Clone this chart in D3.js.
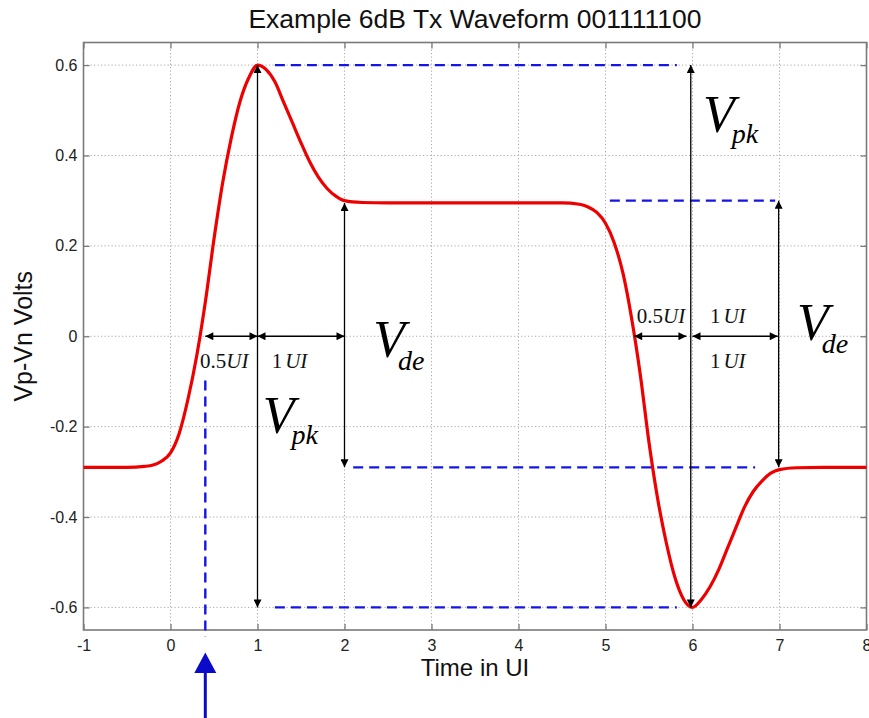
<!DOCTYPE html>
<html>
<head>
<meta charset="utf-8">
<script src="https://cdn.jsdelivr.net/npm/d3@7"></script>
<style>
  body { margin: 0; background: #fff; }
  svg { display: block; }
</style>
</head>
<body>
<div id="chart"></div>
<script>
// waveform (time in UI, volts)
let timeUI = [-1, -0.5, -0.3, -0.2, -0.1, 0, 0.1, 0.2, 0.3, 0.4, 0.5, 0.6, 0.7, 0.8, 0.9, 1.0,
  1.1, 1.2, 1.3, 1.4, 1.5, 1.6, 1.7, 1.8, 1.9, 2.0, 2.2, 2.5, 3, 3.5, 4, 4.5, 4.7, 4.8, 4.9, 5.0,
  5.1, 5.2, 5.3, 5.4, 5.5, 5.6, 5.7, 5.8, 5.9, 6.0, 6.1, 6.2, 6.3, 6.4, 6.5, 6.6, 6.7, 6.8, 6.9,
  7.0, 7.2, 7.5, 8];
let volts = [-0.29, -0.29, -0.288, -0.285, -0.276, -0.258, -0.215, -0.14, -0.045, 0.075, 0.215, 0.34, 0.44, 0.52, 0.572, 0.60,
  0.59, 0.563, 0.518, 0.473, 0.428, 0.386, 0.352, 0.327, 0.31, 0.30, 0.296, 0.295, 0.295, 0.295, 0.295, 0.295, 0.292, 0.286, 0.274, 0.25,
  0.207, 0.14, 0.04, -0.085, -0.235, -0.36, -0.458, -0.535, -0.583, -0.60, -0.583, -0.555, -0.517, -0.47, -0.423, -0.377, -0.343, -0.32, -0.303,
  -0.295, -0.291, -0.29, -0.29];

let xTicks = [-1, 0, 1, 2, 3, 4, 5, 6, 7, 8];
let yTicks = [-0.6, -0.4, -0.2, 0, 0.2, 0.4, 0.6];

// annotations, in data units
let dashLines = [[1.2, 5.82, 0.6], [5.05, 6.95, 0.30], [2.1, 6.72, -0.29], [1.2, 5.82, -0.6]]; // x1, x2, y
let vArrows = [[1, 0.6, -0.6], [2, 0.295, -0.29], [5.98, 0.6, -0.6], [6.99, 0.30, -0.29]];   // x, y1, y2
let hArrows = [[0.4, 1], [1, 2], [5.33, 5.93], [6.0, 6.98]];                                // x1, x2 at y = 0
let uiLabels = [[0.34, -0.07, "0.5", "UI"], [1.163, -0.07, "1", "UI"], [5.36, 0.029, "0.5", "UI"],
  [6.2, 0.029, "1", "UI"], [6.2, -0.07, "1", "UI"]];
let vLabels = [[1.061, -0.215, "pk"], [2.33, -0.046, "de"], [6.12, 0.452, "pk"], [7.2, -0.008, "de"]];
let markerX = 0.4;

let W = 869, H = 718;
let x = d3.scaleLinear().domain([-1, 8]).range([83.5, 866.5]);
let y = d3.scaleLinear().domain([-0.65, 0.65]).range([630, 42.5]);

let svg = d3.select("#chart").append("svg").attr("width", W).attr("height", H);

let defs = svg.append("defs");
defs.append("marker").attr("id", "ah")
  .attr("viewBox", "0 0 10 10").attr("refX", 10).attr("refY", 5)
  .attr("markerWidth", 10).attr("markerHeight", 8).attr("markerUnits", "userSpaceOnUse")
  .attr("orient", "auto-start-reverse")
  .append("path").attr("d", "M0,0 L10,5 L0,10 Z").attr("fill", "#000");

// grid
let grid = svg.append("g").attr("stroke", "#a8a8a8").attr("stroke-width", 1).attr("stroke-dasharray", "1.2,2.3");
grid.selectAll(".gx").data(xTicks.slice(1, -1)).enter().append("line")
  .attr("x1", d => x(d)).attr("x2", d => x(d)).attr("y1", y(0.65)).attr("y2", y(-0.65));
grid.selectAll(".gy").data(yTicks).enter().append("line")
  .attr("x1", x(-1)).attr("x2", x(8)).attr("y1", d => y(d)).attr("y2", d => y(d));

// axes (ticks inward on all sides)
let fmt = d => String(d);
let axB = svg.append("g").attr("transform", `translate(0,${y(-0.65)})`)
  .call(d3.axisBottom(x).tickValues(xTicks).tickFormat(fmt).tickSizeInner(-6).tickSizeOuter(0).tickPadding(10));
let axL = svg.append("g").attr("transform", `translate(${x(-1)},0)`)
  .call(d3.axisLeft(y).tickValues(yTicks).tickFormat(fmt).tickSizeInner(-6).tickSizeOuter(0).tickPadding(6));
let axT = svg.append("g").attr("transform", `translate(0,${y(0.65)})`)
  .call(d3.axisTop(x).tickValues(xTicks).tickFormat("").tickSizeInner(-6).tickSizeOuter(0));
let axR = svg.append("g").attr("transform", `translate(${x(8)},0)`)
  .call(d3.axisRight(y).tickValues(yTicks).tickFormat("").tickSizeInner(-6).tickSizeOuter(0));
[axB, axL, axT, axR].forEach(a => {
  a.select(".domain").remove();
  a.selectAll(".tick line").attr("stroke", "#7a7a7a").attr("stroke-width", 1.3);
  a.selectAll("text").attr("fill", "#222").style("font-family", "Liberation Sans, Arial, sans-serif").style("font-size", "16px");
});

svg.append("rect").attr("x", x(-1)).attr("y", y(0.65))
  .attr("width", x(8) - x(-1)).attr("height", y(-0.65) - y(0.65))
  .attr("fill", "none").attr("stroke", "#7a7a7a").attr("stroke-width", 1.6);

// titles
let sans = "Liberation Sans, Arial, sans-serif";
svg.append("text").attr("x", (x(-1) + x(8)) / 2).attr("y", 28).attr("text-anchor", "middle")
  .style("font-family", sans).style("font-size", "26.5px").attr("fill", "#111")
  .text("Example 6dB Tx Waveform 001111100");
svg.append("text").attr("x", (x(-1) + x(8)) / 2).attr("y", 676).attr("text-anchor", "middle")
  .style("font-family", sans).style("font-size", "24px").attr("fill", "#111")
  .text("Time in UI");
svg.append("text").attr("transform", `translate(32,${y(0)}) rotate(-90)`).attr("text-anchor", "middle")
  .style("font-family", sans).style("font-size", "25px").attr("fill", "#111")
  .text("Vp-Vn Volts");

// waveform
let line = d3.line().x((d, i) => x(timeUI[i])).y(d => y(d)).curve(d3.curveMonotoneX);
svg.append("path").datum(volts).attr("d", line)
  .attr("fill", "none").attr("stroke", "#ee0000").attr("stroke-width", 3.2).attr("stroke-linejoin", "round");

// blue dashed reference lines
let blue = "#1515e6";
svg.selectAll(".dash").data(dashLines).enter().append("line")
  .attr("x1", d => x(d[0])).attr("x2", d => x(d[1])).attr("y1", d => y(d[2])).attr("y2", d => y(d[2]))
  .attr("stroke", blue).attr("stroke-width", 2.2).attr("stroke-dasharray", "10,6");
svg.append("line").attr("x1", x(markerX)).attr("x2", x(markerX)).attr("y1", y(-0.098)).attr("y2", y(-0.665))
  .attr("stroke", blue).attr("stroke-width", 2.4).attr("stroke-dasharray", "10,6");

// blue arrow below axis
let tipY = y(-0.70), baseY = y(-0.745);
svg.append("line").attr("x1", x(markerX)).attr("x2", x(markerX)).attr("y1", baseY).attr("y2", y(-0.85))
  .attr("stroke", "#0a0ac8").attr("stroke-width", 3);
svg.append("path")
  .attr("d", `M${x(markerX)},${tipY} L${x(markerX) + 11},${baseY} L${x(markerX) - 11},${baseY} Z`)
  .attr("fill", "#0a0ac8");

// black dimension arrows
svg.selectAll(".va").data(vArrows).enter().append("line")
  .attr("x1", d => x(d[0])).attr("x2", d => x(d[0])).attr("y1", d => y(d[1])).attr("y2", d => y(d[2]))
  .attr("stroke", "#000").attr("stroke-width", 1.3)
  .attr("marker-start", "url(#ah)").attr("marker-end", "url(#ah)");
svg.selectAll(".ha").data(hArrows).enter().append("line")
  .attr("x1", d => x(d[0])).attr("x2", d => x(d[1])).attr("y1", y(0)).attr("y2", y(0))
  .attr("stroke", "#000").attr("stroke-width", 1.3)
  .attr("marker-start", "url(#ah)").attr("marker-end", "url(#ah)");

// UI labels
let serif = "Liberation Serif, Times New Roman, serif";
let ui = svg.selectAll(".ui").data(uiLabels).enter().append("text")
  .attr("x", d => x(d[0])).attr("y", d => y(d[1]))
  .style("font-family", serif).style("font-size", "21px").attr("fill", "#111");
ui.append("tspan").text(d => d[2]);
ui.append("tspan").attr("dx", d => d[2] === "1" ? 3 : 0).style("font-style", "italic").text(d => d[3]);

// V labels
let vl = svg.selectAll(".vl").data(vLabels).enter().append("text")
  .attr("x", d => x(d[0])).attr("y", d => y(d[1]))
  .style("font-family", serif).style("font-style", "italic").attr("fill", "#000");
vl.append("tspan").style("font-size", "52px").text("V");
vl.append("tspan").attr("dx", d => d[2] === "pk" ? -3 : -7).attr("dy", d => d[2] === "pk" ? 11 : 13)
  .style("font-size", "28px").text(d => d[2]);
</script>
</body>
</html>
